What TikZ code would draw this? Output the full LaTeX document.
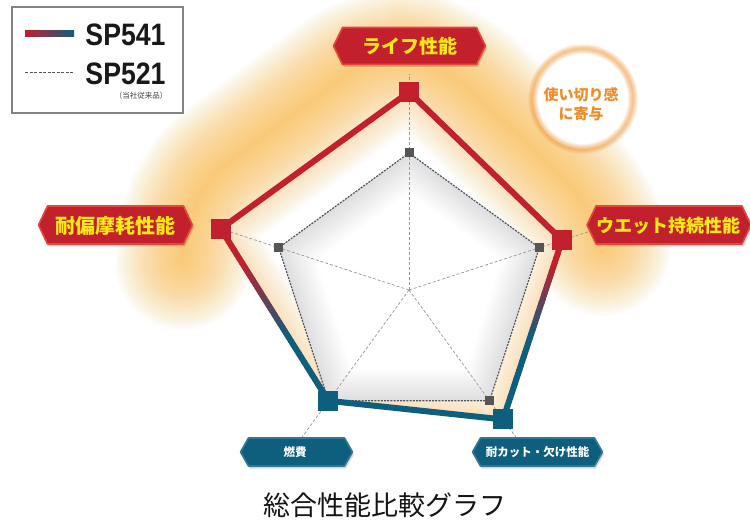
\documentclass[tikz,border=0pt]{standalone}
\usepackage{fontspec}
\setmainfont{Liberation Sans}
\newfontfamily\jp{Noto Sans CJK JP}
\usetikzlibrary{calc}
\definecolor{red541}{RGB}{195,32,46}
\definecolor{teal541}{RGB}{14,94,125}
\definecolor{glowc}{RGB}{250,188,70}
\definecolor{creamc}{RGB}{250,200,120}
\definecolor{shadec}{RGB}{165,165,180}
\definecolor{ringc}{RGB}{244,150,50}
\definecolor{calltext}{RGB}{240,140,40}
\definecolor{lblyellow}{RGB}{255,232,20}
\definecolor{lblredborder}{RGB}{228,72,60}
\definecolor{tealborder}{RGB}{50,120,150}
\definecolor{axisgray}{RGB}{150,150,150}
\definecolor{sp521gray}{RGB}{85,85,85}
\definecolor{legendgray}{RGB}{130,130,130}
\newcommand\hexlabel[7]{%
  \begin{scope}[shift={(#1,#2)}]
    \fill[black,opacity=0.15,shift={(1.5,2.5)}] (-#3,0) -- ({-#3+#5},-#4) -- ({#3-#5},-#4) -- (#3,0) -- ({#3-#5},#4) -- ({-#3+#5},#4) -- cycle;
    \filldraw[fill=#6, draw=#7, line width=1.6, line join=round] (-#3,0) -- ({-#3+#5},-#4) -- ({#3-#5},-#4) -- (#3,0) -- ({#3-#5},#4) -- ({-#3+#5},#4) -- cycle;
  \end{scope}}
\tikzset{
  redsq/.style={fill=red541, minimum size=20pt, inner sep=0pt, outer sep=0pt},
  tealsq/.style={fill=teal541, minimum size=20pt, inner sep=0pt, outer sep=0pt},
  graysq/.style={fill=sp521gray, minimum size=9pt, inner sep=0pt, outer sep=0pt},
  axisline/.style={axisgray, line width=0.7pt, dash pattern=on 3pt off 2pt},
  sp521line/.style={sp521gray, line width=1.2pt, dash pattern=on 2pt off 1.2pt},
  redlbl/.style={text=lblyellow, inner sep=0pt},
  teallbl/.style={text=white, inner sep=0pt, font={\jp\bfseries\fontsize{11.5}{12}\selectfont}},
}
\begin{document}
\begin{tikzpicture}[x=1pt,y=-1pt]
\useasboundingbox (0,0) rectangle (750,521);
\fill[white] (0,0) rectangle (750,521);
% geometry
\coordinate (C) at (409,290);
\coordinate (T541) at ($(C)+(-90:198)$);
\coordinate (L541) at ($(C)+(198:198)$);
\coordinate (R541) at ($(C)+(-18:161)$);
\coordinate (BR541) at ($(C)+(54:160)$);
\coordinate (BL541) at ($(C)+(126:137)$);
\coordinate (T521) at ($(C)+(-90:137)$);
\coordinate (L521) at ($(C)+(198:137)$);
\coordinate (R521) at ($(C)+(-18:137)$);
\coordinate (BR521) at ($(C)+(54:137)$);
\coordinate (BL521) at ($(C)+(126:137)$);
\coordinate (axT) at ($(C)+(-90:216)$);
\coordinate (axL) at ($(C)+(198:198)$);
\coordinate (axR) at ($(C)+(-18:190)$);
\coordinate (axBR) at ($(C)+(54:182)$);
\coordinate (axBL) at ($(C)+(126:182)$);
% glow
\foreach \w in {136,132,...,4}
  \draw[glowc, opacity=0.032, line width=\w pt, line cap=round, line join=round, rounded corners=40pt]
    (183,262) -- (192,190) -- (377,52) -- (440,62) -- (592,205) -- (603,248);
% callout circle
\coordinate (callc) at (583,99);
\fill[white] (callc) circle (50);
\foreach \w in {1,2,...,10}
  \draw[ringc, opacity=0.07, line width=\w pt] (callc) circle (50);
\node[align=center, text=calltext, inner sep=0pt, font={\jp\bfseries\fontsize{15}{19}\selectfont}] (callout) at (581,104.5)
  {使い切り感\\に寄与};
% interior of SP541
\begin{scope}
  \clip (T541) -- (R541) -- (BR541) -- (BL541) -- (L541) -- cycle;
  \fill[white] (0,0) rectangle (750,521);
  \foreach \w in {60,56,...,4}
    \draw[creamc, opacity=0.04, line width=\w pt, line join=round] (T541) -- (R541) -- (BR541) -- (BL541) -- (L541) -- cycle;
\end{scope}
% interior of SP521
\begin{scope}
  \clip (T521) -- (R521) -- (BR521) -- (BL521) -- (L521) -- cycle;
  \fill[white] (0,0) rectangle (750,521);
  \foreach \w in {64,60,...,4}
    \draw[shadec, opacity=0.018, line width=\w pt, line join=round] (T521) -- (R521) -- (BR521) -- (BL521) -- (L521) -- cycle;
\end{scope}
% axes
\foreach \a in {axT,axL,axR,axBR,axBL}
  \draw[axisline] (C) -- (\a);
% SP521 polygon
\draw[sp521line] (T521) -- (R521) -- (BR521) -- (BL521) -- (L521) -- cycle;
\node[graysq] (sqT521) at (T521) {};
\node[graysq] (sqL521) at (L521) {};
\node[graysq] (sqR521) at (R521) {};
\node[graysq] (sqBR521) at (BR521) {};
% SP541 polygon
\draw[red541, line width=6pt] (L541) -- (T541) -- (R541);
\draw[teal541, line width=6pt] (BL541) -- (BR541);
\foreach \A/\B/\ya/\yb in {L541/BL541/228.8/400.8, R541/BR541/240.2/419.4}{
  \foreach \i in {1,...,40}{
    \pgfmathsetmacro\ym{\ya+(\yb-\ya)*(\i-0.5)/40}
    \pgfmathtruncatemacro\pc{max(0,min(100,(\ym-265)/75*100))}
    \pgfmathsetmacro\ta{(\i-1)/40}
    \pgfmathsetmacro\tb{\i/40}
    \draw[line width=6pt, line cap=round, draw=teal541!\pc!red541] ($(\A)!\ta!(\B)$) -- ($(\A)!\tb!(\B)$);
  }
}
\node[redsq] (sqT541) at (T541) {};
\node[redsq] (sqL541) at (L541) {};
\node[redsq] (sqR541) at (R541) {};
\node[tealsq] (sqBR541) at (BR541) {};
\node[tealsq] (sqBL541) at (BL541) {};
% labels
\hexlabel{409.5}{46}{76}{18.5}{9}{red541}{lblredborder}
\node[redlbl, font={\jp\bfseries\fontsize{19}{19}\selectfont}] (lblT) at (409.5,46.5) {ライフ性能};
\hexlabel{115.5}{225}{77}{19}{9}{red541}{lblredborder}
\node[redlbl, font={\jp\bfseries\fontsize{20}{20}\selectfont}] (lblL) at (115.5,225.5) {耐偏摩耗性能};
\hexlabel{669}{225}{82}{19}{9}{red541}{lblredborder}
\node[redlbl, font={\jp\bfseries\fontsize{18}{18}\selectfont}] (lblR) at (668,225.5) {ウエット持続性能};
\hexlabel{296.5}{452}{56}{14}{8}{teal541}{tealborder}
\node[teallbl] (lblBL) at (295,452.5) {燃費};
\hexlabel{537.5}{452}{65}{14}{8}{teal541}{tealborder}
\node[teallbl] (lblBR) at (537.5,452.5) {耐カット・欠け性能};
% legend
\filldraw[fill=white, draw=legendgray, line width=1.2pt] (12,7) rectangle (183,113);
\shade[left color=red541, right color=teal541] (25,31) rectangle (74,37);
\draw[sp521gray, line width=0.8pt, dash pattern=on 3pt off 1.5pt] (25,72) -- (74,72);
\node[inner sep=0pt, text=black!90] (sp541) at (125.5,34.5) {\bfseries\fontsize{31}{31}\selectfont\scalebox{0.86}[1]{SP541}};
\node[inner sep=0pt, text=black!90] (sp521) at (125.5,73.5) {\bfseries\fontsize{31}{31}\selectfont\scalebox{0.86}[1]{SP521}};
\node[inner sep=0pt, text=black!75] (sp521note) at (141,96) {\jp\fontsize{7.5}{7.5}\selectfont （当社従来品）};
% title
\node[inner sep=0pt, text=black!92] (title) at (385,505) {\jp\fontsize{27}{27}\selectfont 総合性能比較グラフ};
\end{tikzpicture}
\end{document}
